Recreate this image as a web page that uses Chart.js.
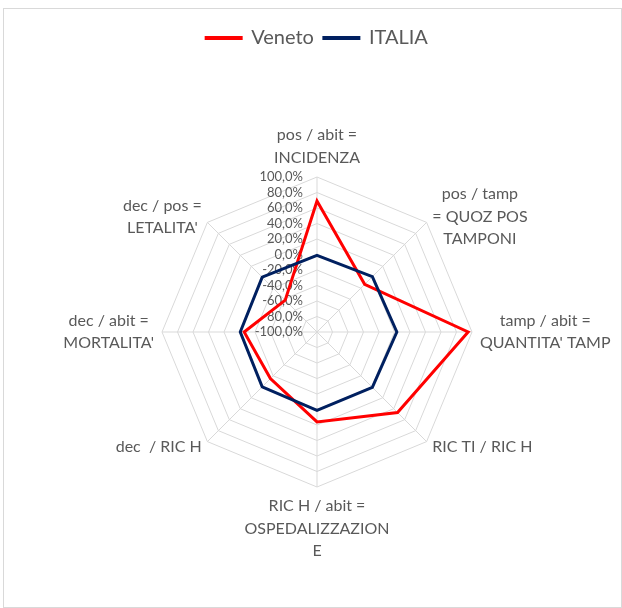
<!DOCTYPE html>
<html>
<head>
<meta charset="utf-8">
<script src="https://cdn.jsdelivr.net/npm/chart.js@4.4.1/dist/chart.umd.min.js"></script>
<style>
    body { margin: 0; background: #fff; }
    #wrap { position: relative; width: 622px; height: 608px; }
    #frame { position: absolute; left: 3px; top: 8px; width: 617px; height: 598px; border: 1px solid #d9d9d9; }
    canvas { position: absolute; left: 0; top: 0; }
</style>
</head>
<body>
<div id="wrap">
    <div id="frame"></div>
    <canvas id="radarChart" width="622" height="608"></canvas>
</div>
<script>
// axis labels, one array of lines per axis (clockwise from the top)
const categories = [
    ['pos / abit =', 'INCIDENZA'],
    ['pos / tamp', '= QUOZ POS', 'TAMPONI'],
    ['tamp / abit =', "QUANTITA' TAMP"],
    ['RIC TI / RIC H'],
    ['RIC H / abit =', 'OSPEDALIZZAZION', 'E'],
    ['dec  / RIC H'],
    ['dec / abit =', "MORTALITA'"],
    ['dec / pos =', "LETALITA'"]
];
const veneto = [69, -13, 95, 47, 16, -15, -6, -42];
const italia = [-1, 1, 3, 1, 1, 0, -1, 0];
const tickMin = -100;
const tickMax = 100;
const tickStep = 20;

const textColor = '#595959';
const gridColor = '#d9d9d9';

function formatTick(v) {
    return v.toFixed(1).replace('.', ',') + '%';
}

// tick labels right aligned next to the vertical axis, like excel does
const tickLabels = {
    id: 'tickLabels',
    beforeDatasetsDraw(chart) {
        const s = chart.scales.r;
        const ctx = chart.ctx;
        ctx.save();
        ctx.font = '13px Lato';
        ctx.fillStyle = textColor;
        ctx.textAlign = 'right';
        ctx.textBaseline = 'middle';
        s.ticks.forEach(t => {
            const y = s.yCenter - s.getDistanceFromCenterForValue(t.value);
            ctx.fillText(formatTick(t.value), s.xCenter - 14, y);
        });
        ctx.restore();
    }
};

// point labels placed as blocks of centered lines outside each vertex
const axisLabels = {
    id: 'axisLabels',
    afterDraw(chart) {
        const s = chart.scales.r;
        const ctx = chart.ctx;
        const lh = 22.5, gap = 8;
        ctx.save();
        ctx.font = '16px Lato';
        ctx.fillStyle = textColor;
        ctx.textAlign = 'center';
        ctx.textBaseline = 'middle';
        categories.forEach((lines, i) => {
            const p = s.getPointPosition(i, s.drawingArea + gap);
            const w = Math.max(...lines.map(t => ctx.measureText(t).width));
            const h = lines.length * lh;
            const dx = p.x - s.xCenter;
            const dy = p.y - s.yCenter;
            let cx = p.x;
            let top = p.y - h / 2;
            if (dx > 1) cx = p.x + w / 2;
            else if (dx < -1) cx = p.x - w / 2;
            else top = dy < 0 ? p.y - h : p.y;
            lines.forEach((t, k) => ctx.fillText(t, cx, top + lh * (k + 0.5)));
        });
        ctx.restore();
    }
};

const ctx = document.getElementById('radarChart').getContext('2d');
new Chart(ctx, {
    type: 'radar',
    data: {
        labels: categories,
        datasets: [{
            label: 'Veneto',
            data: veneto,
            borderColor: '#ff0000',
            backgroundColor: '#ff0000',
            borderWidth: 3,
            fill: false,
            pointRadius: 0,
            borderJoinStyle: 'miter',
            order: 1
        }, {
            label: 'ITALIA',
            data: italia,
            borderColor: '#002060',
            backgroundColor: '#002060',
            borderWidth: 3,
            fill: false,
            pointRadius: 0,
            borderJoinStyle: 'miter',
            order: 0
        }]
    },
    options: {
        responsive: false,
        animation: false,
        layout: {
            padding: { top: 18, left: 162, right: 150, bottom: 2 }
        },
        scales: {
            r: {
                min: tickMin,
                max: tickMax,
                ticks: { stepSize: tickStep, display: false },
                grid: { color: gridColor, lineWidth: 1 },
                angleLines: { color: gridColor, lineWidth: 1 },
                pointLabels: { display: false }
            }
        },
        plugins: {
            legend: {
                position: 'top',
                labels: {
                    boxWidth: 35,
                    boxHeight: 1,
                    padding: 10,
                    color: textColor,
                    font: { family: 'Lato', size: 20 },
                    sort: (a, b) => a.datasetIndex - b.datasetIndex
                }
            },
            tooltip: { enabled: false }
        }
    },
    plugins: [tickLabels, axisLabels]
});
</script>
</body>
</html>
